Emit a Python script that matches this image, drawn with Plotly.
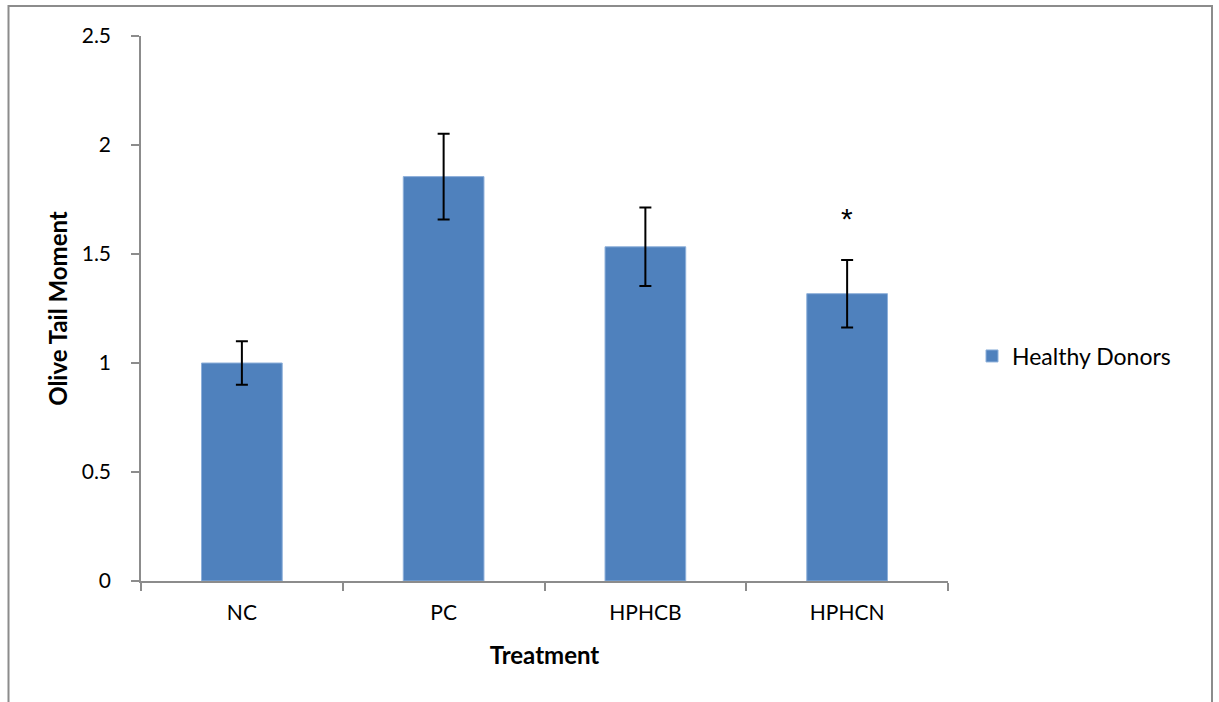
import plotly.graph_objects as go

categories = ["NC", "PC", "HPHCB", "HPHCN"]
values = [1.0, 1.855, 1.533, 1.318]
errors = [0.1, 0.197, 0.18, 0.155]
series_name = "Healthy Donors"
y_ticks = [0, 0.5, 1, 1.5, 2, 2.5]
y_tick_labels = ["0", "0.5", "1", "1.5", "2", "2.5"]

W, H = 1219, 702
L, R, T, B = 141, 948, 36, 581

fig = go.Figure()
fig.add_trace(go.Bar(
    x=categories, y=values, name=series_name,
    marker=dict(color="#4F81BD", line=dict(color="#8EB0DA", width=1)),
    width=0.4,
    error_y=dict(type="data", array=errors, visible=True, color="black", thickness=2, width=6),
    showlegend=True,
))

fig.add_annotation(x="HPHCN", y=1.665, text="*", showarrow=False,
                   font=dict(size=30, color="black", family="Liberation Sans"))

px2x = lambda p: (p - L) / (R - L)
px2y = lambda p: (B - p) / (B - T)
fig.add_shape(type="rect", xref="paper", yref="paper",
              x0=px2x(8.5), x1=px2x(1212), y0=px2y(720), y1=px2y(6),
              line=dict(color="#8C8C8C", width=2), fillcolor="rgba(0,0,0,0)", layer="below")

fig.update_layout(
    width=W, height=H,
    margin=dict(l=L, r=W - R, t=T, b=H - B, pad=0),
    paper_bgcolor="white", plot_bgcolor="white",
    font=dict(family="Lato", size=21, color="black"),
    bargap=0.6,
    showlegend=True,
    legend=dict(x=px2x(972), y=px2y(356), xanchor="left", yanchor="middle",
                font=dict(size=23, family="Lato"), bgcolor="rgba(0,0,0,0)",
                itemwidth=30),
    xaxis=dict(
        title=dict(text="<b>Treatment</b>", font=dict(size=24), standoff=24),
        showline=True, linecolor="#8C8C8C", linewidth=1.5,
        ticks="outside", ticklen=8, tickcolor="#8C8C8C", tickwidth=1.5,
        tickson="boundaries", showgrid=False, zeroline=False,
        tickfont=dict(size=21), ticklabelstandoff=12,
    ),
    yaxis=dict(
        title=dict(text="<b>Olive Tail Moment</b>", font=dict(size=24), standoff=7),
        range=[0, 2.5], tickvals=y_ticks, ticktext=y_tick_labels,
        showline=True, linecolor="#8C8C8C", linewidth=1.5,
        ticks="outside", ticklen=8, tickcolor="#8C8C8C", tickwidth=1.5,
        showgrid=False, zeroline=False, tickfont=dict(size=21),
        ticklabelstandoff=16,
    ),
)

fig.write_html("out.html", config={"displayModeBar": False},
               post_script="document.body.style.margin='0';document.body.style.overflow='hidden';")
